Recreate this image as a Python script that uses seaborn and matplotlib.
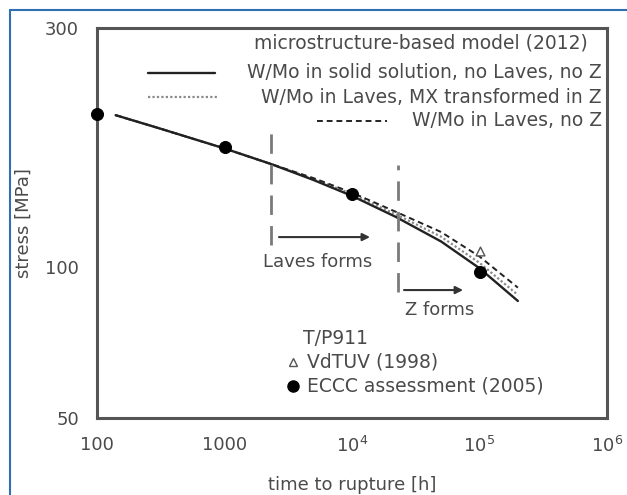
import numpy as np
import pandas as pd
import matplotlib
matplotlib.use("Agg")
import matplotlib.pyplot as plt
from matplotlib.lines import Line2D
from matplotlib.ticker import FixedLocator, NullFormatter, LogLocator
import seaborn as sns

# ---------------- data ----------------
t_model = [140, 300, 1000, 2300, 5000, 10000, 22000, 50000, 100000, 200000]
solid_no_laves = [201, 189.6, 172.5, 160.7, 149.2, 138.7, 126, 112.5, 99.5, 85.6]
laves_mx_to_z = [201, 189.6, 172.5, 160.7, 149.8, 140, 127.5, 115, 102, 88]
laves_no_z = [201, 189.6, 172.5, 160.7, 150.5, 140.8, 129, 117.5, 105, 91]
model_names = ["W/Mo in solid solution, no Laves, no Z",
               "W/Mo in Laves, MX transformed in Z",
               "W/Mo in Laves, no Z"]

eccc_t = [100, 1000, 10000, 100000]
eccc_s = [202, 174, 140, 97.6]
vdtuv_t = [100000]
vdtuv_s = [107.5]

x_ticks = [1e2, 1e3, 1e4, 1e5, 1e6]
x_ticklabels = ["100", "1000", "$10^4$", "$10^5$", "$10^6$"]
y_ticks = [50, 100, 300]
y_ticklabels = ["50", "100", "300"]
y_minor = [60, 70, 80, 90]

# annotation anchors (data coords)
laves_t, laves_y = 2317, (110.7, 187.7)
laves_arrow = ((2676, 114.8), (13840, 114.8))
laves_text = (5408, 102.4)
z_t, z_y = 22960, (89.2, 159.9)
z_arrow = ((25590, 90.0), (74300, 90.0))
z_text = (48980, 82.1)

# ---------------- style ----------------
sns.set_style("white")
plt.rcParams["font.family"] = ["DejaVu Sans"]
TXT = "#4a4a4a"
FRAME = "#555555"

fig = plt.figure(figsize=(6.27, 4.95), dpi=100)
ax = fig.add_axes([97 / 627, 77 / 495, 510 / 627, 390 / 495])

df = pd.DataFrame({
    "t": t_model * 3,
    "stress": solid_no_laves + laves_mx_to_z + laves_no_z,
    "model": [model_names[0]] * len(t_model) + [model_names[1]] * len(t_model)
             + [model_names[2]] * len(t_model),
})

sns.lineplot(data=df[df.model == model_names[1]], x="t", y="stress", ax=ax,
             color="#8a8a8a", lw=1.6, legend=False, linestyle=(0, (1, 1)))
sns.lineplot(data=df[df.model == model_names[2]], x="t", y="stress", ax=ax,
             color="#222222", lw=1.4, legend=False, linestyle=(0, (3, 2)))
sns.lineplot(data=df[df.model == model_names[0]], x="t", y="stress", ax=ax,
             color="#222222", lw=1.7, legend=False)

sns.scatterplot(x=eccc_t, y=eccc_s, ax=ax, marker="o", s=75, color="black",
                edgecolor="black", zorder=5, clip_on=False, legend=False)
sns.scatterplot(x=vdtuv_t, y=vdtuv_s, ax=ax, marker="^", s=40, facecolor="white",
                edgecolor="#555555", linewidth=1.0, zorder=5, legend=False)

ax.set_xscale("log")
ax.set_yscale("log")
ax.set_xlim(100, 1e6)
ax.set_ylim(50, 300)

ax.xaxis.set_major_locator(FixedLocator(x_ticks))
ax.set_xticklabels(x_ticklabels)
ax.xaxis.set_minor_locator(LogLocator(base=10, subs=np.arange(2, 10)))
ax.xaxis.set_minor_formatter(NullFormatter())
ax.yaxis.set_major_locator(FixedLocator(y_ticks))
ax.set_yticklabels(y_ticklabels)
ax.yaxis.set_minor_locator(FixedLocator(y_minor))
ax.yaxis.set_minor_formatter(NullFormatter())

ax.tick_params(axis="both", which="both", direction="in", colors=FRAME,
               labelcolor=TXT, labelsize=13, pad=13, width=1.2)
ax.tick_params(axis="x", which="both", length=5)
ax.tick_params(axis="y", which="both", length=8)

for sp in ax.spines.values():
    sp.set_color(FRAME)
    sp.set_linewidth(2.2)

ax.set_xlabel("time to rupture [h]", fontsize=13, color=TXT, labelpad=14)
ax.set_ylabel("stress [MPa]", fontsize=13, color=TXT, labelpad=9)

# phase-formation markers
ax.plot([laves_t, laves_t], laves_y, color="#7a7a7a", lw=2.0, dashes=(7, 4))
ax.plot([z_t, z_t], z_y, color="#7a7a7a", lw=2.0, dashes=(7, 4))
for (x0, y0), (x1, y1) in [laves_arrow, z_arrow]:
    ax.annotate("", xy=(x1, y1), xytext=(x0, y0),
                arrowprops=dict(arrowstyle="-|>", color="#333333", lw=1.5,
                                mutation_scale=11, shrinkA=0, shrinkB=0))
ax.text(*laves_text, "Laves forms", ha="center", va="center", fontsize=13, color=TXT)
ax.text(*z_text, "Z forms", ha="center", va="center", fontsize=13, color=TXT)

# legend (top right)
tr = ax.transAxes
ax.text(0.963, 0.962, "microstructure-based model (2012)", transform=tr,
        ha="right", va="center", fontsize=13.5, color=TXT)
ax.add_line(Line2D([0.100, 0.231], [0.885, 0.885], transform=tr, color="#222222", lw=1.7))
ax.text(0.990, 0.885, model_names[0], transform=tr, ha="right", va="center",
        fontsize=13.5, color=TXT)
ax.add_line(Line2D([0.100, 0.237], [0.822, 0.822], transform=tr, color="#8a8a8a",
                   lw=1.6, linestyle=(0, (1, 1))))
ax.text(0.990, 0.822, model_names[1], transform=tr, ha="right", va="center",
        fontsize=13.5, color=TXT)
ax.add_line(Line2D([0.431, 0.569], [0.762, 0.762], transform=tr, color="#222222",
                   lw=1.4, linestyle=(0, (3, 2))))
ax.text(0.990, 0.762, model_names[2], transform=tr, ha="right", va="center",
        fontsize=13.5, color=TXT)

# legend (bottom)
ax.text(0.404, 0.205, "T/P911", transform=tr, ha="left", va="center", fontsize=13.5, color=TXT)
ax.add_line(Line2D([0.384], [0.144], transform=tr, marker="^", markersize=6,
                   markerfacecolor="white", markeredgecolor="#555555", lw=0))
ax.text(0.412, 0.144, "VdTUV (1998)", transform=tr, ha="left", va="center", fontsize=13.5, color=TXT)
ax.add_line(Line2D([0.384], [0.082], transform=tr, marker="o", markersize=8,
                   color="black", lw=0))
ax.text(0.412, 0.082, "ECCC assessment (2005)", transform=tr, ha="left", va="center",
        fontsize=13.5, color=TXT)

# blue frame (left and top)
fig.add_artist(Line2D([10 / 627, 10 / 627], [0, 1 - 10 / 495], transform=fig.transFigure,
                      color="#2f6fb3", lw=1.5))
fig.add_artist(Line2D([10 / 627, 1], [1 - 10 / 495, 1 - 10 / 495], transform=fig.transFigure,
                      color="#2f6fb3", lw=1.5))

fig.savefig("out.png", dpi=100)
